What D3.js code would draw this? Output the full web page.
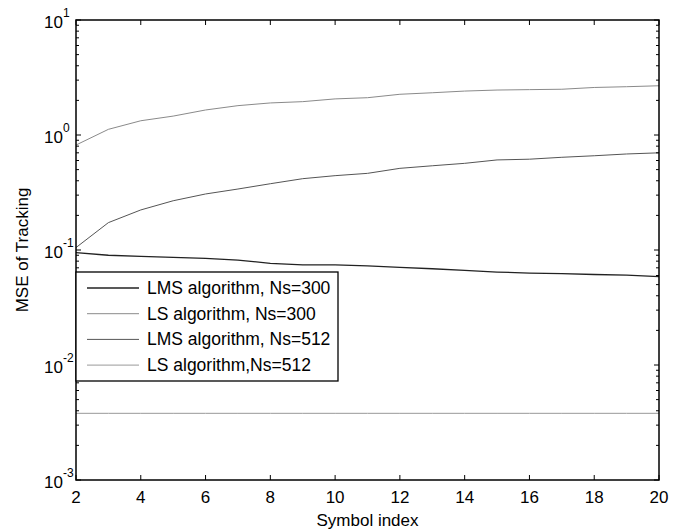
<!DOCTYPE html>
<html><head><meta charset="utf-8">
<script src="https://cdn.jsdelivr.net/npm/d3@7"></script>
<style>body{margin:0;background:#fff}svg{display:block}text{font-family:"Liberation Sans",Arial,sans-serif}</style>
</head><body>
<svg id="c" width="682" height="531"></svg>
<script>
const symbolIndex = [2,3,4,5,6,7,8,9,10,11,12,13,14,15,16,17,18,19,20];
const lmsNs300 = [0.0947,0.090,0.0881,0.0864,0.0847,0.0818,0.0766,0.0741,0.0741,0.0727,0.0707,0.0687,0.0664,0.0643,0.0630,0.0624,0.0612,0.0604,0.0586];
const lsNs300 = [0.818,1.12,1.33,1.46,1.65,1.80,1.90,1.95,2.06,2.11,2.26,2.33,2.41,2.46,2.48,2.50,2.59,2.63,2.68];
const lmsNs512 = [0.105,0.173,0.223,0.268,0.307,0.339,0.377,0.417,0.443,0.464,0.513,0.540,0.567,0.607,0.616,0.640,0.660,0.684,0.700];
const lsNs512 = [0.0038,0.0038,0.0038,0.0038,0.0038,0.0038,0.0038,0.0038,0.0038,0.0038,0.0038,0.0038,0.0038,0.0038,0.0038,0.0038,0.0038,0.0038,0.0038];
const seriesNames = ["LMS algorithm, Ns=300","LS algorithm, Ns=300","LMS algorithm, Ns=512","LS algorithm,Ns=512"];
const xTicks = [2,4,6,8,10,12,14,16,18,20];
const yExponents = [1,0,-1,-2,-3];
const xLabel = "Symbol index";
const yLabel = "MSE of Tracking";

const series = [
  {name: seriesNames[0], values: lmsNs300, color: "#222", w: 1.3},
  {name: seriesNames[1], values: lsNs300, color: "#8a8a8a", w: 1},
  {name: seriesNames[2], values: lmsNs512, color: "#555", w: 1},
  {name: seriesNames[3], values: lsNs512, color: "#999", w: 1}
];

const L = 76, R = 659, T = 20, B = 480;
const svg = d3.select("#c");
const x = d3.scaleLinear().domain([2,20]).range([L,R]);
const y = d3.scaleLog().domain([1e-3,1e1]).range([B,T]);

const g = svg.append("g");
const line = d3.line().x((d,i)=>x(symbolIndex[i])).y(d=>y(d));
series.forEach(s=>{
  g.append("path").attr("d", line(s.values)).attr("fill","none")
   .attr("stroke", s.color).attr("stroke-width", s.w);
});

// ticks
const tk = svg.append("g").attr("stroke","#000").attr("stroke-width",1);
xTicks.forEach(v=>{
  tk.append("line").attr("x1",x(v)).attr("x2",x(v)).attr("y1",B).attr("y2",B-5);
  tk.append("line").attr("x1",x(v)).attr("x2",x(v)).attr("y1",T).attr("y2",T+5);
});
const yMinor = [];
for (let e=-3;e<1;e++) for (let m=2;m<=9;m++) yMinor.push(m*Math.pow(10,e));
yMinor.forEach(v=>{
  tk.append("line").attr("x1",L).attr("x2",L+3).attr("y1",y(v)).attr("y2",y(v));
  tk.append("line").attr("x1",R).attr("x2",R-3).attr("y1",y(v)).attr("y2",y(v));
});
yExponents.forEach(e=>{
  const v=Math.pow(10,e);
  tk.append("line").attr("x1",L).attr("x2",L+5).attr("y1",y(v)).attr("y2",y(v));
  tk.append("line").attr("x1",R).attr("x2",R-5).attr("y1",y(v)).attr("y2",y(v));
});

// box
svg.append("rect").attr("x",L).attr("y",T).attr("width",R-L).attr("height",B-T)
  .attr("fill","none").attr("stroke","#000").attr("stroke-width",1.5);

// tick labels
xTicks.forEach(v=>{
  svg.append("text").attr("x",x(v)).attr("y",B+23).attr("text-anchor","middle")
    .attr("font-size",17).text(v);
});
yExponents.forEach(e=>{
  svg.append("text").attr("x",L-13).attr("y",y(Math.pow(10,e))+8)
    .attr("text-anchor","end").attr("font-size",17).text("10");
  svg.append("text").attr("x",L-13).attr("y",y(Math.pow(10,e))-3)
    .attr("font-size",12).attr("text-anchor","start").text(e);
});

// axis labels
svg.append("text").attr("x",(L+R)/2).attr("y",526).attr("text-anchor","middle")
  .attr("font-size",17).text(xLabel);
svg.append("text").attr("transform",`translate(28,${(T+B)/2}) rotate(-90)`)
  .attr("text-anchor","middle").attr("font-size",17).text(yLabel);

// legend
const lg = svg.append("g");
lg.append("rect").attr("x",76).attr("y",272).attr("width",262).attr("height",109)
  .attr("fill","#fff").attr("stroke","#000").attr("stroke-width",1.3);
series.forEach((s,i)=>{
  const yy = 288 + i*25.7;
  lg.append("line").attr("x1",87).attr("x2",139).attr("y1",yy).attr("y2",yy)
    .attr("stroke",s.color).attr("stroke-width",s.w);
  lg.append("text").attr("x",147).attr("y",yy+6).attr("font-size",17.5).text(s.name);
});
</script>
</body></html>
